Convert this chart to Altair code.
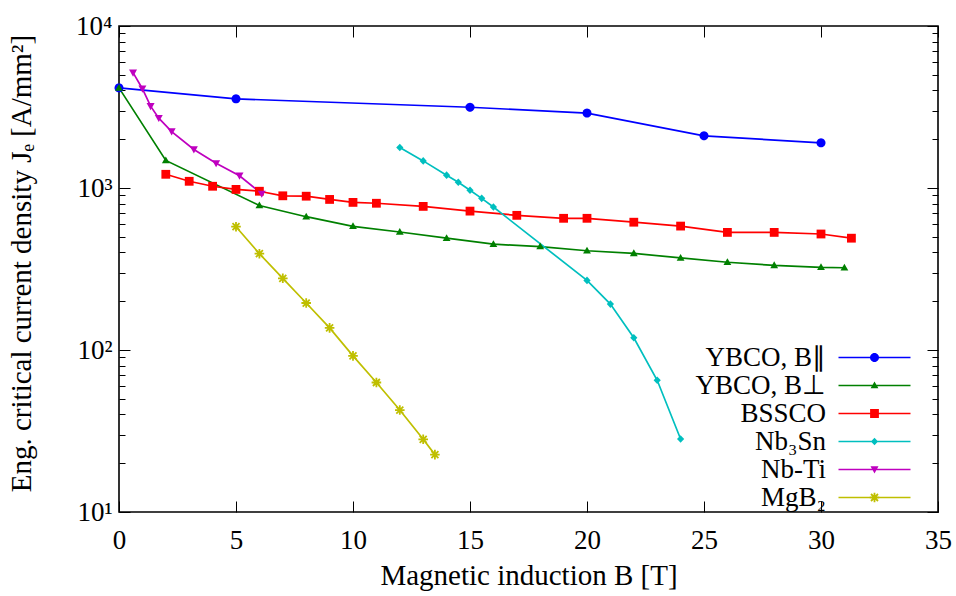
import math
import altair as alt
import pandas as pd

# ---------------- data ----------------
series_names = ["YBCO, B∥", "YBCO, B⊥", "BSSCO", "Nb₃Sn", "Nb-Ti", "MgB₂"]
series_colors = ["#0000ff", "#008000", "#ff0000", "#00bfbf", "#bf00bf", "#bfbf00"]

ybco_par_B = [0, 5, 15, 20, 25, 30]
ybco_par_J = [4150, 3550, 3150, 2900, 2100, 1900]

ybco_perp_B = [0, 2, 6, 8, 10, 12, 14, 16, 18, 20, 22, 24, 26, 28, 30, 31]
ybco_perp_J = [4150, 1480, 780, 665, 580, 535, 490, 450, 435, 410, 395, 370, 348, 333, 324, 322]

bssco_B = [2, 3, 4, 5, 6, 7, 8, 9, 10, 11, 13, 15, 17, 19, 20, 22, 24, 26, 28, 30, 31.3]
bssco_J = [1215, 1100, 1025, 980, 955, 895, 890, 850, 815, 805, 770, 720, 678, 650, 650,
           615, 582, 532, 532, 520, 490]

nb3sn_B = [12, 13, 14, 14.5, 15, 15.5, 16, 20, 21, 22, 23, 24]
nb3sn_J = [1780, 1470, 1200, 1085, 968, 863, 763, 269, 192, 119, 65, 28.2]

nbti_B = [0.6, 1, 1.35, 1.7, 2.25, 3.2, 4.15, 5.15, 6.1]
nbti_J = [5150, 4100, 3200, 2700, 2230, 1730, 1420, 1190, 920]

mgb2_B = [5, 6, 7, 8, 9, 10, 11, 12, 13, 13.5]
mgb2_J = [577, 393, 277, 195, 137, 92, 63, 42.6, 28.1, 22.6]

x_ticks = [0, 5, 10, 15, 20, 25, 30, 35]
y_major = [10, 100, 1000, 10000]
y_minor = [m * d for d in (10, 100, 1000) for m in range(2, 10)]

x_title = "Magnetic induction B [T]"
y_title = "Eng. critical current density Jₑ [A/mm²]"

all_B = [ybco_par_B, ybco_perp_B, bssco_B, nb3sn_B, nbti_B, mgb2_B]
all_J = [ybco_par_J, ybco_perp_J, bssco_J, nb3sn_J, nbti_J, mgb2_J]
rows = []
for name, bs, js in zip(series_names, all_B, all_J):
    for b, j in zip(bs, js):
        rows.append({"series": name, "B": b, "J": j})
df = pd.DataFrame(rows)

# ---------------- marker geometry (px) ----------------
def orient(poly):
    a = sum(poly[i][0] * poly[(i + 1) % len(poly)][1] - poly[(i + 1) % len(poly)][0] * poly[i][1]
            for i in range(len(poly)))
    return poly if a > 0 else poly[::-1]

def bar(x0, y0, x1, y1, t):
    dx, dy = x1 - x0, y1 - y0
    L = math.hypot(dx, dy)
    nx, ny = -dy / L * t, dx / L * t
    return [(x0 + nx, y0 + ny), (x1 + nx, y1 + ny), (x1 - nx, y1 - ny), (x0 - nx, y0 - ny)]

def circle(r, n=28):
    return [(r * math.cos(2 * math.pi * k / n), r * math.sin(2 * math.pi * k / n)) for k in range(n)]

a_, d_, t_ = 4.8, 3.5, 0.9
markers = [
    [circle(4.5)],
    [[(0, -4.0), (3.9, 2.8), (-3.9, 2.8)]],
    [[(-4.4, -4.4), (4.4, -4.4), (4.4, 4.4), (-4.4, 4.4)]],
    [[(0, -3.8), (3.6, 0), (0, 3.8), (-3.6, 0)]],
    [[(-4.0, -3.2), (4.0, -3.2), (0, 4.0)]],
    [bar(-a_, 0, a_, 0, t_), bar(0, -a_, 0, a_, t_), bar(-d_, -d_, d_, d_, t_), bar(-d_, d_, d_, -d_, t_)],
]

def to_path(polys, unit):
    out = []
    for p in polys:
        p = orient(p)
        pts = ["%.4f,%.4f" % (x / unit, y / unit) for x, y in p]
        out.append("M" + "L".join(pts) + "Z")
    return "".join(out)

MARK_SIZE = 144          # 12 px box -> 6 px per unit
LEG_SIZE = 24 * 24       # 24 px box -> 12 px per unit (line sample extends beyond the box)
marker_paths = [to_path(m, 6.0) for m in markers]
legend_line = bar(-36, 0, 36, 0, 0.85)
legend_paths = [to_path([legend_line] + m, 12.0) for m in markers]

# ---------------- chart ----------------
W, H = 819, 486
FONT = "Liberation Serif"
FS = 27
TFS = 29

def xenc(axis):
    return alt.X("B:Q", scale=alt.Scale(domain=[0, 35], nice=False, zero=False), axis=axis)

def yenc(axis):
    return alt.Y("J:Q", scale=alt.Scale(type="log", domain=[10, 10000], nice=False), axis=axis)

def cenc(legend):
    return alt.Color("series:N", scale=alt.Scale(domain=series_names, range=series_colors), legend=legend)

label_expr = ("datum.value == 10 ? '10¹' : datum.value == 100 ? '10²' : "
              "datum.value == 1000 ? '10³' : '10⁴'")

x_axis_main = alt.Axis(orient="bottom", values=x_ticks, ticks=False, domain=False, grid=False,
                       labelFlush=False, labelOverlap=False, labelFont=FONT, labelFontSize=FS,
                       labelColor="black", labelPadding=15, title=x_title, titleFont=FONT,
                       titleFontSize=TFS, titleFontWeight="normal", titleColor="black", titlePadding=8)
y_axis_main = alt.Axis(orient="left", values=y_major, ticks=False, domain=False, grid=False,
                       labelFlush=False, labelOverlap=False, labelExpr=label_expr, labelFont=FONT,
                       labelFontSize=FS, labelColor="black", labelPadding=7, labelBaseline="middle",
                       title=y_title, titleFont=FONT, titleFontSize=TFS, titleFontWeight="normal",
                       titleColor="black", titleX=-83, titleY=237)

lines = alt.Chart(df).mark_line(strokeWidth=1.7).encode(
    x=xenc(x_axis_main), y=yenc(y_axis_main), color=cenc(None)
)

points = alt.Chart(df).mark_point(filled=True, opacity=1, size=MARK_SIZE, strokeWidth=0).encode(
    x=xenc(None), y=yenc(None), color=cenc(None),
    shape=alt.Shape("series:N", scale=alt.Scale(domain=series_names, range=marker_paths), legend=None),
)

leg = alt.Legend(orient="none", legendX=742, legendY=318, title=None, symbolSize=LEG_SIZE,
                 symbolStrokeWidth=0, symbolOpacity=1, symbolOffset=0, labelFont=FONT,
                 labelFontSize=FS, labelColor="black", labelAlign="right", labelBaseline="middle",
                 labelOffset={"expr": "-62"}, rowPadding=0, padding=0, labelLimit=400)

legend_layer = alt.Chart(df).transform_filter("false").mark_point(
    filled=True, opacity=1, size=LEG_SIZE, strokeWidth=0
).encode(
    x=xenc(None), y=yenc(None), color=cenc(leg),
    shape=alt.Shape("series:N", scale=alt.Scale(domain=series_names, range=legend_paths), legend=leg),
)

tc = dict(labels=False, domain=False, grid=False, ticks=True, tickColor="black", tickWidth=1, title=None)

def tick_layer(xaxis, yaxis):
    return alt.Chart(df).transform_filter("false").mark_point().encode(
        x=xenc(xaxis), y=yenc(yaxis)
    )

t1 = tick_layer(alt.Axis(orient="top", offset=-H, values=x_ticks, tickSize=11, **tc),
                alt.Axis(orient="right", offset=-W, values=y_major, tickSize=11, **tc))
t2 = tick_layer(alt.Axis(orient="bottom", offset=-H, values=x_ticks, tickSize=11, **tc),
                alt.Axis(orient="left", offset=-W, values=y_major, tickSize=11, **tc))
t3 = tick_layer(None, alt.Axis(orient="right", offset=-W, values=y_minor, tickSize=6, **tc))
t4 = tick_layer(None, alt.Axis(orient="left", offset=-W, values=y_minor, tickSize=6, **tc))

chart = alt.layer(lines, points, legend_layer, t1, t2, t3, t4).resolve_scale(
    x="independent", y="independent", color="independent", shape="independent"
).properties(
    width=W, height=H,
    autosize=alt.AutoSizeParams(type="none"),
    padding={"left": 119, "top": 26, "right": 18, "bottom": 84},
    background="white",
).configure_view(stroke="black", strokeWidth=1.6)

chart.save("out.html", embed_options={"renderer": "svg", "actions": False})
